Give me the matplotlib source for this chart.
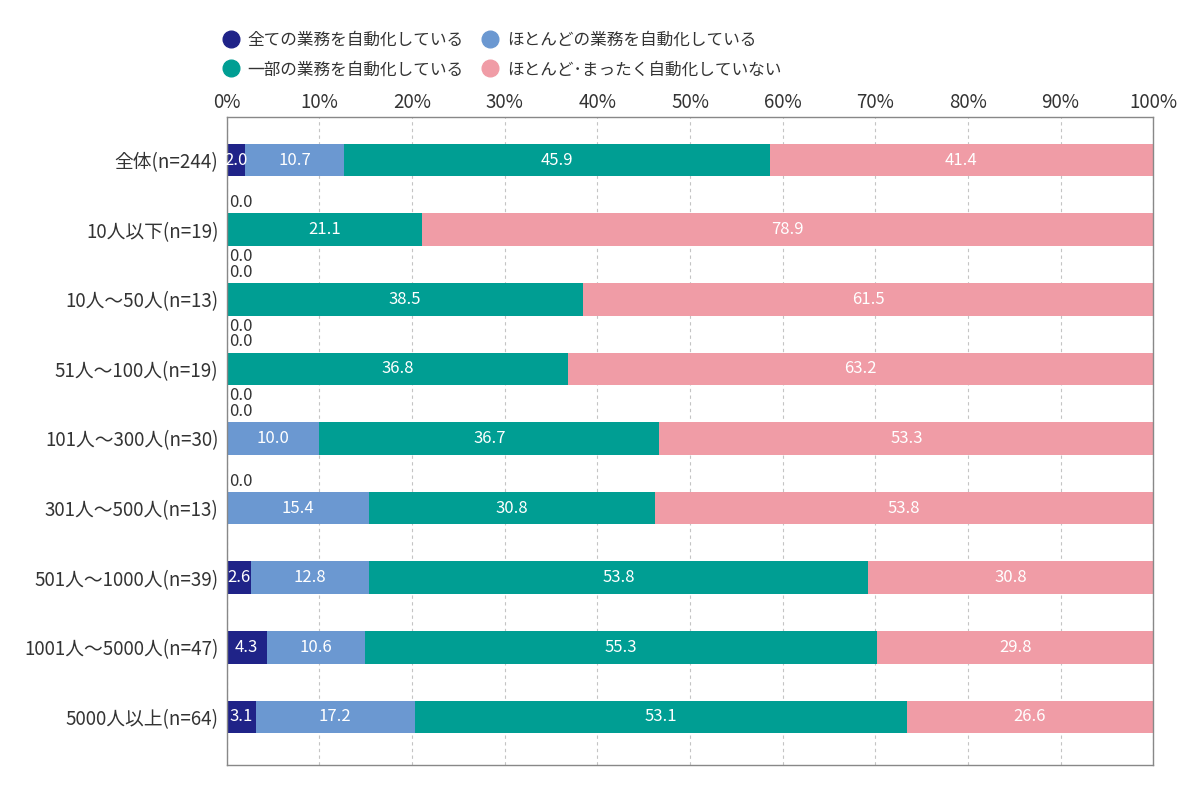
import matplotlib.pyplot as plt
import numpy as np
from matplotlib.lines import Line2D

plt.rcParams['font.family'] = ['Noto Sans CJK JP', 'DejaVu Sans']

categories = ['全体(n=244)', '10人以下(n=19)', '10人～50人(n=13)', '51人～100人(n=19)',
              '101人～300人(n=30)', '301人～500人(n=13)', '501人～1000人(n=39)',
              '1001人～5000人(n=47)', '5000人以上(n=64)']
series_names = ['全ての業務を自動化している', 'ほとんどの業務を自動化している',
                '一部の業務を自動化している', 'ほとんど･まったく自動化していない']
all_auto = [2.0, 0.0, 0.0, 0.0, 0.0, 0.0, 2.6, 4.3, 3.1]
most_auto = [10.7, 0.0, 0.0, 0.0, 10.0, 15.4, 12.8, 10.6, 17.2]
some_auto = [45.9, 21.1, 38.5, 36.8, 36.7, 30.8, 53.8, 55.3, 53.1]
no_auto = [41.4, 78.9, 61.5, 63.2, 53.3, 53.8, 30.8, 29.8, 26.6]
colors = ['#1f2388', '#6b98d1', '#009e93', '#f09ca6']

data = [all_auto, most_auto, some_auto, no_auto]

fig = plt.figure(figsize=(12, 8.01), dpi=100)
ax = fig.add_axes([0.189, 0.045, 0.772, 0.809])

y = np.arange(len(categories))
h = 0.47
left = np.zeros(len(categories))
for i, vals in enumerate(data):
    vals = np.array(vals)
    ax.barh(y, vals, left=left, height=h, color=colors[i], zorder=2)
    for j, v in enumerate(vals):
        if v > 0:
            ax.text(left[j] + v / 2, y[j], f'{v:.1f}', ha='center', va='center',
                    color='white', fontsize=12, zorder=3)
    left += vals

# zero labels: first zero segment above the bar, second below
for j in range(len(categories)):
    zeros = [i for i in range(len(data)) if data[i][j] == 0]
    for k, i in enumerate(zeros):
        if k == 0:
            ax.text(0.3, y[j] - h / 2 - 0.03, f'{data[i][j]:.1f}', ha='left', va='bottom',
                    color='#333333', fontsize=12)
        else:
            ax.text(0.3, y[j] + h / 2 + 0.03, f'{data[i][j]:.1f}', ha='left', va='top',
                    color='#333333', fontsize=12)

ax.set_xlim(0, 100)
ax.set_ylim(8.69, -0.62)
ax.set_yticks(y)
ax.set_yticklabels(categories, fontsize=13.5, color='#333333')
ax.set_xticks(np.arange(0, 101, 10))
ax.set_xticklabels([f'{t}%' for t in range(0, 101, 10)], fontsize=13.5, color='#333333')
ax.xaxis.tick_top()
ax.tick_params(axis='x', length=0, pad=3)
ax.tick_params(axis='y', length=0, pad=6)
ax.grid(axis='x', color='#c4c4c4', linestyle=(0, (3, 3)), linewidth=0.8, zorder=0)
for s in ax.spines.values():
    s.set_color('#888888')
    s.set_linewidth(1.0)

handles = [Line2D([0], [0], marker='o', linestyle='', markersize=12,
                  markerfacecolor=c, markeredgecolor=c) for c in colors]
order = [0, 2, 1, 3]
fig.legend([handles[i] for i in order], [series_names[i] for i in order],
           ncol=2, loc='upper left', bbox_to_anchor=(0.166, 0.979), frameon=False,
           fontsize=12, handletextpad=0.0, columnspacing=0.6, labelspacing=0.75,
           labelcolor='#333333')

fig.savefig('out.png', dpi=100)
